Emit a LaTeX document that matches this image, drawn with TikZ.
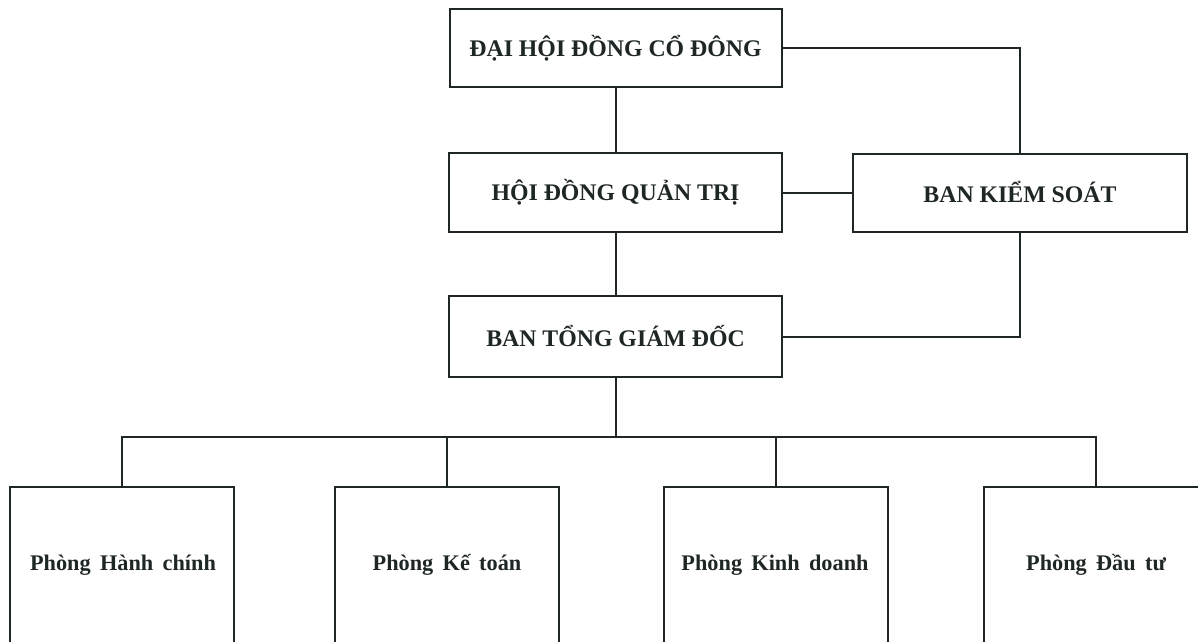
\documentclass[tikz,border=0pt]{standalone}
\usepackage{fontspec}
\setmainfont{Liberation Serif}
\definecolor{ink}{HTML}{1F2626}
\begin{document}
\begin{tikzpicture}[x=1pt,y=-1pt,
  ln/.style={draw=ink,line width=2pt},
  topbox/.style={ln,rectangle,inner sep=0pt,font=\fontsize{23.8}{28}\selectfont\bfseries,text=ink},
  deptbox/.style={ln,rectangle,inner sep=0pt,minimum width=224pt,minimum height=230pt},
  depttext/.style={font=\fontsize{22.3}{26}\selectfont\bfseries,text=ink,inner sep=0pt}]
\clip (0,0) rectangle (1198,641);
\useasboundingbox (0,0) rectangle (1198,641);
\node[topbox,minimum width=332pt,minimum height=78pt] (dh) at (615.5,48) {ĐẠI HỘI ĐỒNG CỔ ĐÔNG};
\node[topbox,minimum width=333pt,minimum height=79pt] (hd) at (615.5,192.5) {HỘI ĐỒNG QUẢN TRỊ};
\node[topbox,minimum width=334pt,minimum height=78pt] (ks) at (1020,192.5) {BAN KIỂM SOÁT};
\node[topbox,minimum width=333pt,minimum height=81pt] (tg) at (615.5,336.5) {BAN TỔNG GIÁM ĐỐC};
\node[deptbox] (pA) at (122,602) {};
\node[deptbox] (pB) at (447,602) {};
\node[deptbox] (pC) at (775.5,602) {};
\node[deptbox] (pD) at (1096,602) {};
\node[depttext] (tA) at (123,565) {Phòng\, Hành\, chính};
\node[depttext] (tB) at (447,565) {Phòng\, Kế\, toán};
\node[depttext] (tC) at (775,565) {Phòng\, Kinh\, doanh};
\node[depttext] (tD) at (1096,565) {Phòng\, Đầu\, tư};
\coordinate (bus) at (615.5,437);
\draw[ln] (dh.south) -- (hd.north);
\draw[ln] (hd.south) -- (tg.north);
\draw[ln] (hd.east) -- (ks.west);
\draw[ln] (dh.east) -| (ks.north);
\draw[ln] (ks.south) |- (tg.east);
\draw[ln] (tg.south) -- (bus);
\draw[ln] (pA.north) |- (bus);
\draw[ln] (pD.north) |- (bus);
\draw[ln] (pB.north) -- (pB.north |- bus);
\draw[ln] (pC.north) -- (pC.north |- bus);
\end{tikzpicture}
\end{document}
